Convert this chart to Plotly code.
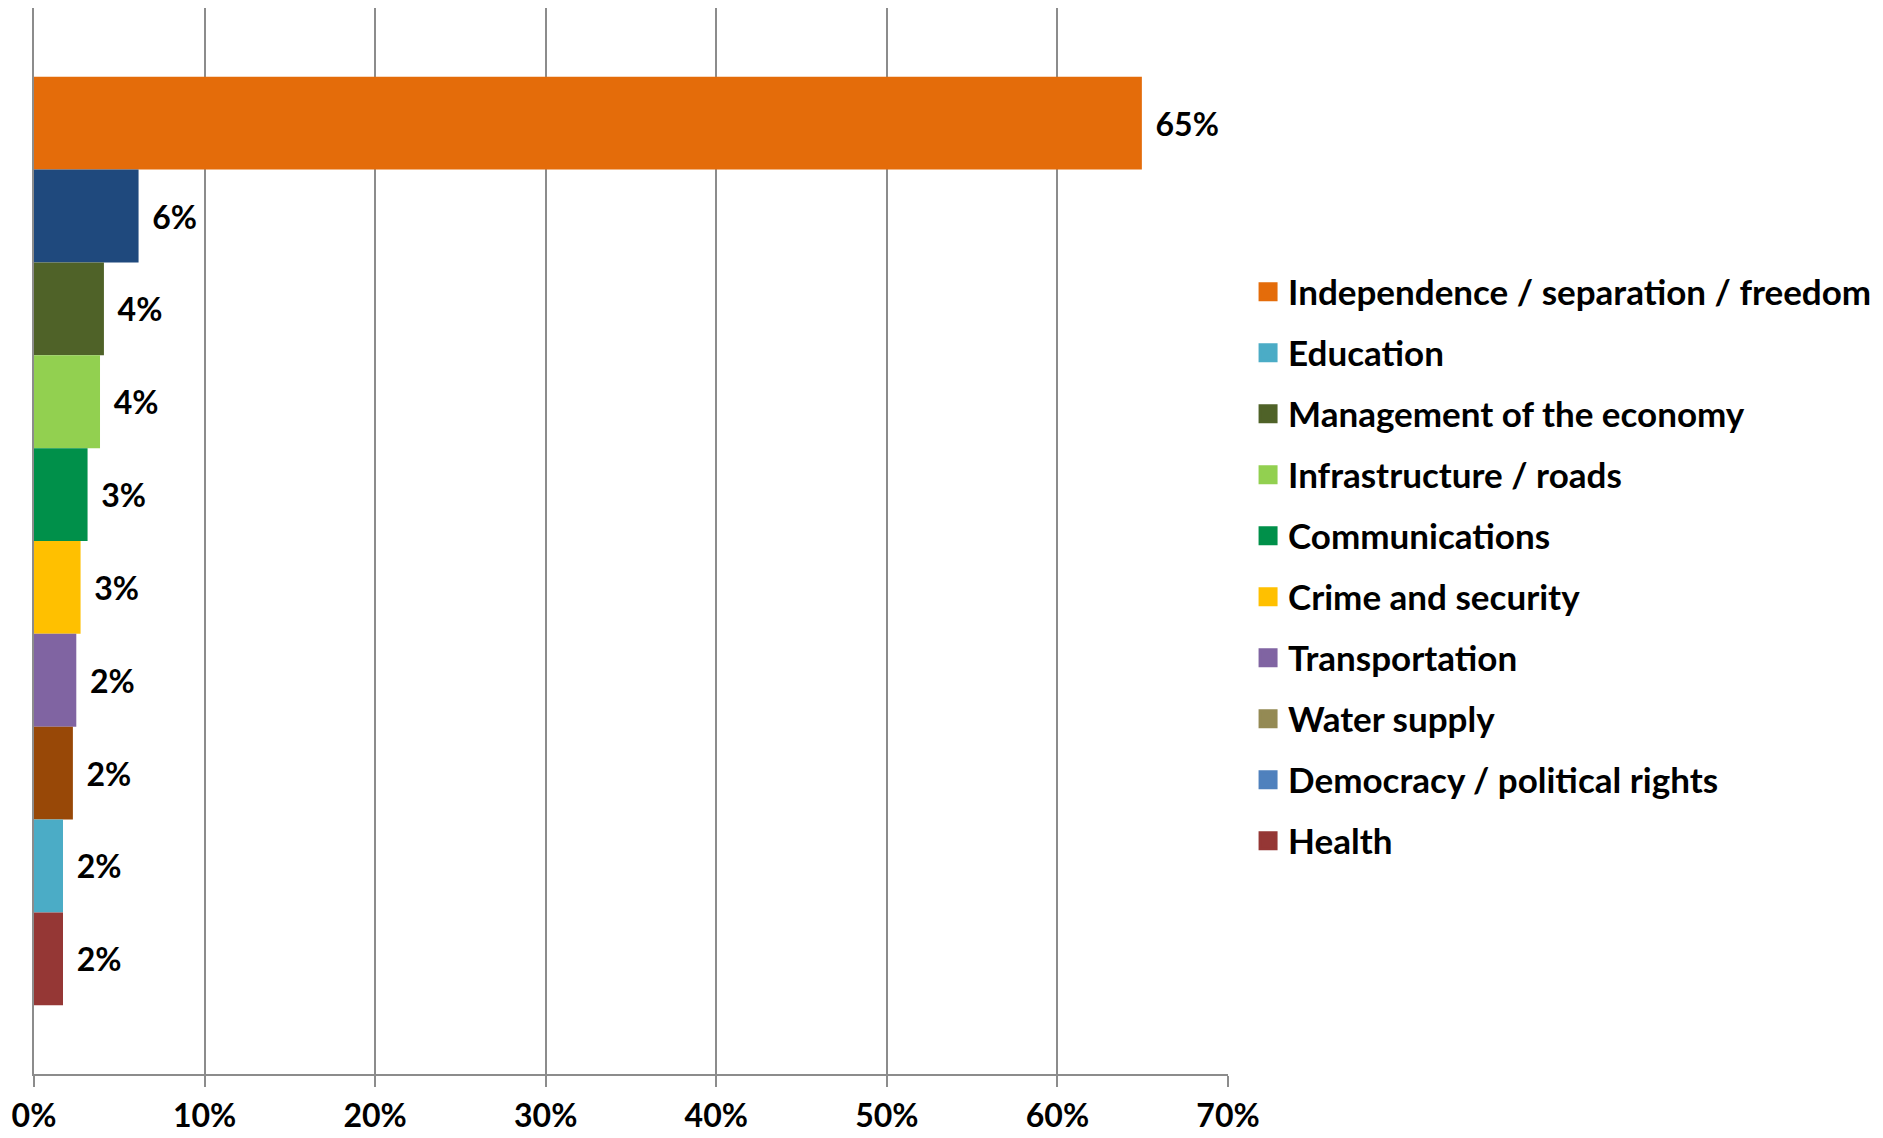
import plotly.graph_objects as go

# Bars, top to bottom (one category, ten clustered series)
bar_values = [64.95, 6.13, 4.10, 3.87, 3.14, 2.73, 2.48, 2.28, 1.70, 1.70]
bar_labels = ["65%", "6%", "4%", "4%", "3%", "3%", "2%", "2%", "2%", "2%"]
bar_colors = ["#E46C0A", "#1F497D", "#4F6228", "#92D050", "#00904A",
              "#FFC000", "#8064A2", "#984807", "#4BACC6", "#953735"]

# Legend entries as shown in the reference
legend_names = ["Independence / separation / freedom", "Education",
                "Management of the economy", "Infrastructure / roads",
                "Communications", "Crime and security", "Transportation",
                "Water supply", "Democracy / political rights", "Health"]
legend_colors = ["#E46C0A", "#4BACC6", "#4F6228", "#92D050", "#00904A",
                 "#FFC000", "#8064A2", "#948A54", "#4F81BD", "#953735"]

tick_vals = [0, 10, 20, 30, 40, 50, 60, 70]
tick_text = ["0%", "10%", "20%", "30%", "40%", "50%", "60%", "70%"]

FONT = "Lato"
GRID = "#8C8C8C"
BOLD = dict(family=FONT, size=32, color="#000000", weight="bold")
LEG = dict(family=FONT, size=35, color="#000000", weight="bold")

fig = go.Figure()
for v, lab, c in zip(bar_values, bar_labels, bar_colors):
    fig.add_trace(go.Bar(
        x=[v], y=[""], orientation="h",
        marker=dict(color=c, line=dict(width=0)),
        text=["\u2004" + lab], textposition="outside",
        textfont=BOLD,
        cliponaxis=False, showlegend=False, hoverinfo="skip",
    ))

for i, (n, c) in enumerate(zip(legend_names, legend_colors)):
    fig.add_trace(go.Scatter(
        x=[None], y=[None], mode="markers", name=n,
        marker=dict(symbol="square", size=16, color=c,
                    line=dict(width=3, color=c)),
        legendgroup=f"g{i}", showlegend=True,
    ))

fig.update_layout(
    width=1875, height=1130,
    margin=dict(l=26, r=655, t=0, b=64, autoexpand=False),
    paper_bgcolor="white", plot_bgcolor="white",
    barmode="group", bargap=0.129, bargroupgap=0,
    font=BOLD,
    legend=dict(
        x=1.0168, xanchor="left", y=0.476, yanchor="middle",
        font=LEG, itemsizing="trace",
        tracegroupgap=12.5, bgcolor="rgba(0,0,0,0)",
    ),
    xaxis=dict(
        range=[0, 70], tickvals=tick_vals, ticktext=tick_text,
        showgrid=True, gridcolor=GRID, gridwidth=2,
        showline=True, linecolor=GRID, linewidth=2,
        ticks="outside", ticklen=11, tickwidth=2, tickcolor=GRID,
        tickfont=BOLD, automargin=False,
        ticklabelstandoff=2, zeroline=False, fixedrange=True,
    ),
    yaxis=dict(
        autorange="reversed", showticklabels=False, showgrid=False,
        showline=True, linecolor=GRID, linewidth=2, zeroline=False,
        ticks="", fixedrange=True, automargin=False,
    ),
)

fig.write_html("out.html")
